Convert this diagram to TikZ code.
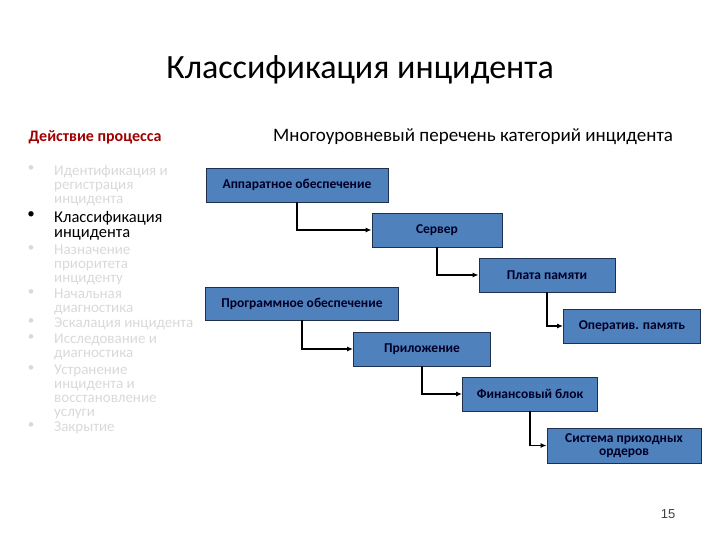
\documentclass[tikz,border=0pt]{standalone}
\usepackage{fontspec}
\setmainfont{Carlito}
\newfontfamily\numfont{Liberation Sans}
\usetikzlibrary{arrows.meta,positioning,shapes}

\definecolor{boxblue}{HTML}{4F81BD}
\definecolor{boxline}{HTML}{1F2F4F}
\definecolor{headred}{HTML}{A00000}
\definecolor{fadegrey}{HTML}{D9D9D9}

\tikzset{
  catbox/.style={draw=boxline,fill=boxblue,line width=.8pt,minimum height=34pt,
    inner sep=1pt,align=center,font=\fontsize{13.5}{13}\selectfont\bfseries,text=black!85!blue},
  link/.style={-{Latex[length=6pt,width=5pt]},line width=1.6pt},
  item/.style={anchor=north west,inner sep=0pt,align=left,
    font=\fontsize{15}{14}\selectfont,text=fadegrey},
  dot/.style={anchor=north,inner sep=0pt,font=\fontsize{13}{14}\selectfont,text=fadegrey}
}

\begin{document}
\begin{tikzpicture}[x=1pt,y=-1pt]
\useasboundingbox (0,0) rectangle (720,540);
\node (title) at (360,70) {\fontsize{34}{36}\selectfont Классификация инцидента};
\node[anchor=west,text=headred,font=\fontsize{16}{18}\selectfont\bfseries] (left) at (25,137) {Действие процесса};
\node[font=\fontsize{19}{21}\selectfont] (right) at (473,137) {Многоуровневый перечень категорий инцидента};

% process steps
\node[item] (s1) at (54,165) {Идентификация и\\регистрация\\инцидента};
\node[item,text=black,font=\fontsize{16.5}{15}\selectfont] (s2) at (54,211) {Классификация\\инцидента};
\node[item] (s3) at (54,245) {Назначение\\приоритета\\инциденту};
\node[item] (s4) at (54,289) {Начальная\\диагностика};
\node[item] (s5) at (54,318) {Эскалация инцидента};
\node[item] (s6) at (54,334) {Исследование и\\диагностика};
\node[item] (s7) at (54,365) {Устранение\\инцидента и\\восстановление\\услуги};
\node[item] (s8) at (54,422) {Закрытие};
\foreach \s in {1,3,4,5,6,7,8}
  \node[dot] (b\s) at (s\s.north west -| 31,0) {•};
\node[dot,text=black,font=\fontsize{15}{15}\selectfont] (b2) at (31,211) {•};

% categories
\node[catbox,minimum width=182pt] (hw) at (297,185) {Аппаратное обеспечение};
\node[catbox,minimum width=130pt] (srv) at (437,230) {Сервер};
\node[catbox,minimum width=136pt] (ram) at (547,275) {Плата памяти};
\node[catbox,minimum width=193pt,minimum height=33pt] (sw) at (302,303.5) {Программное обеспечение};
\node[catbox,minimum width=137pt] (opm) at (632,326) {Оператив. память};
\node[catbox,minimum width=137pt] (app) at (422,349) {Приложение};
\node[catbox,minimum width=135pt] (fin) at (530,394) {Финансовый блок};
\node[catbox,minimum width=154pt,minimum height=35pt] (ord) at (624,445.5) {Система приходных\\ордеров};

\draw[link] (hw.south) |- (srv.west);
\draw[link] (srv.south) |- (ram.west);
\draw[link] (ram.south) |- (opm.west);
\draw[link] (sw.south) |- (app.west);
\draw[link] (app.south) |- (fin.west);
\draw[link] (fin.south) |- (ord.west);

\node[font=\numfont\fontsize{13}{14}\selectfont,text=black!75] (page) at (668,514) {15};
\end{tikzpicture}
\end{document}
